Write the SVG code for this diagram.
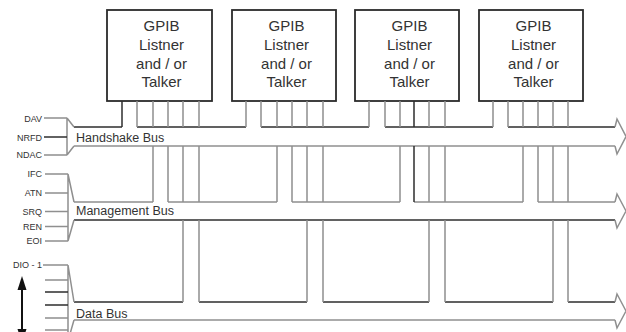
<svg xmlns="http://www.w3.org/2000/svg" width="626" height="332" viewBox="0 0 626 332">
<style>
.box{fill:#fff;stroke:#2b2b2b;stroke-width:1.8}
.g{stroke:#8f8f8f;stroke-width:1.5;fill:none}
.d{stroke:#2e2e2e;stroke-width:1.5;fill:none}
.t{font-family:"Liberation Sans",Arial,sans-serif;fill:#333}
.bt{font-size:15px;text-anchor:middle}
.bl{font-size:12.5px}
.sl{font-size:9px;text-anchor:end}
</style>
<rect width="626" height="332" fill="#fff"/>
<g id="box1"><rect class="box" x="107" y="10" width="105" height="91"/>
<text class="t bt" x="161.5" y="31">GPIB</text><text class="t bt" x="161.5" y="50">Listner</text><text class="t bt" x="161.5" y="69">and / or</text><text class="t bt" x="161.5" y="87">Talker</text></g>
<g id="box2"><rect class="box" x="232" y="10" width="104" height="91"/>
<text class="t bt" x="286.5" y="31">GPIB</text><text class="t bt" x="286.5" y="50">Listner</text><text class="t bt" x="286.5" y="69">and / or</text><text class="t bt" x="286.5" y="87">Talker</text></g>
<g id="box3"><rect class="box" x="355" y="10" width="104" height="91"/>
<text class="t bt" x="409.5" y="31">GPIB</text><text class="t bt" x="409.5" y="50">Listner</text><text class="t bt" x="409.5" y="69">and / or</text><text class="t bt" x="409.5" y="87">Talker</text></g>
<g id="box4"><rect class="box" x="479" y="10" width="104" height="91"/>
<text class="t bt" x="533.5" y="31">GPIB</text><text class="t bt" x="533.5" y="50">Listner</text><text class="t bt" x="533.5" y="69">and / or</text><text class="t bt" x="533.5" y="87">Talker</text></g>
<g id="connectors">
<!-- handshake bus -->
<path class="d" d="M74,127H122 M137,127H246 M261,127H369 M385,127H493 M508,127H615"/>
<path class="g" d="M74,146H615"/>
<path class="g" d="M615,127L617,119L626,136.5L617,154L615,146"/>
<!-- management bus -->
<path class="g" d="M74,202H153 M168,202H277 M292,202H400 M414,202H523 M538,202H615"/>
<path class="d" d="M74,220H615"/>
<path class="g" d="M615,202L617,194L626,211L617,228L615,220"/>
<!-- data bus -->
<path class="d" d="M74,302H183 M199,302H307 M323,302H429 M445,302H553 M568,302H615"/>
<path class="g" d="M74,320H615"/>
<path class="g" d="M615,302L617,294L626,311L617,328L615,320"/>
<!-- stubs -->
<path class="d" d="M122,101V127"/>
<path class="g" d="M137,101V127 M153,101V127 M153,146V202 M168,101V127 M168,146V202 M183,101V127 M183,146V202 M183,220V302 M199,101V127 M199,146V202 M199,220V302"/>
<path class="g" d="M246,101V127 M261,101V127 M277,101V127 M277,146V202 M292,101V127 M292,146V202 M307,101V127 M307,146V202 M307,220V302 M323,101V127 M323,146V202 M323,220V302"/>
<path class="g" d="M369,101V127 M385,101V127 M400,101V127 M400,146V202 M429,101V127 M429,146V202 M429,220V302 M445,101V127 M445,146V202 M445,220V302"/>
<path class="d" d="M414,101V127 M414,146V202"/>
<path class="g" d="M493,101V127 M508,101V127 M523,101V127 M523,146V202 M538,101V127 M538,146V202 M553,101V127 M553,146V202 M553,220V302 M568,101V127 M568,146V202 M568,220V302"/>
<!-- handshake funnel -->
<path class="g" d="M44,118H67 M44,155H67 M67,118V155 M67,118L74,127 M67,155L74,146"/>
<path class="d" d="M44,137H67"/>
<!-- management funnel -->
<path class="g" d="M45,174H68 M45,193H68 M45,211.5H68 M45,226.5H68 M45,241H68 M68,174V241 M68,174L74,202 M68,241L74,220"/>
<!-- data funnel -->
<path class="g" d="M43,265H68 M45,280H68 M45,318H68 M45,330H68 M68,265V334 M68,265L74,302 M74,320L70,334"/>
<path class="d" d="M45,292H68 M45,305H68"/>
<!-- left double arrow -->
<path d="M22,286V332" stroke="#111" stroke-width="2" fill="none"/>
<path d="M22,276L26.5,290L17.5,290Z" fill="#111"/>
<path d="M22,343L26.5,329L17.5,329Z" fill="#111"/>
</g>
<g id="labels">
<text class="t bl" x="76" y="141.5">Handshake Bus</text>
<text class="t bl" x="76" y="215">Management Bus</text>
<text class="t bl" x="76" y="318">Data Bus</text>
<text class="t sl" x="42" y="121.5">DAV</text>
<text class="t sl" x="42" y="140.5">NRFD</text>
<text class="t sl" x="42" y="158">NDAC</text>
<text class="t sl" x="42" y="177.3">IFC</text>
<text class="t sl" x="42" y="196.3">ATN</text>
<text class="t sl" x="42" y="214.8">SRQ</text>
<text class="t sl" x="42" y="229.8">REN</text>
<text class="t sl" x="42" y="244.3">EOI</text>
<text class="t sl" x="42" y="268.3">DIO - 1</text>
</g>
</svg>
